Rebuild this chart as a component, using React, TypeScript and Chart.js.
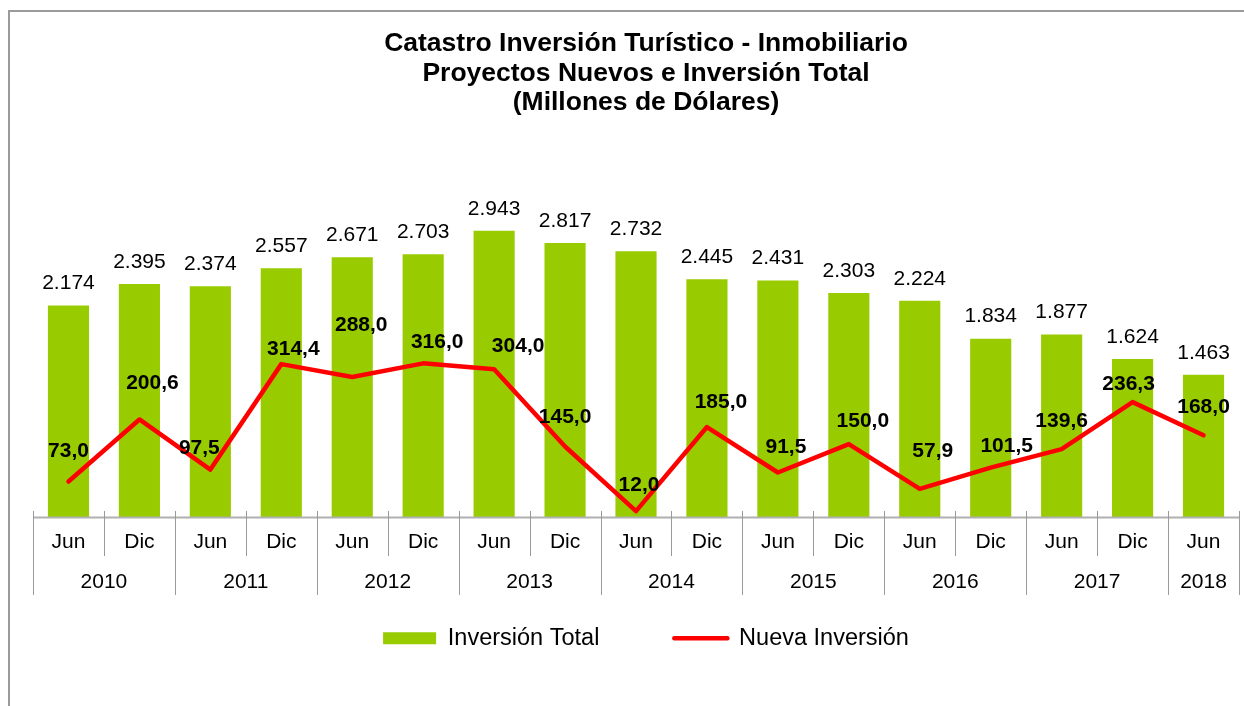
import React, { useEffect, useRef } from 'react';
import { Chart, registerables } from 'chart.js';

Chart.register(...registerables);

const FONT = "'Liberation Sans', Arial, sans-serif";

const periods = ['Jun', 'Dic', 'Jun', 'Dic', 'Jun', 'Dic', 'Jun', 'Dic', 'Jun', 'Dic', 'Jun', 'Dic', 'Jun', 'Dic', 'Jun', 'Dic', 'Jun'];
const categoryYears = ['2010', '2010', '2011', '2011', '2012', '2012', '2013', '2013', '2014', '2014', '2015', '2015', '2016', '2016', '2017', '2017', '2018'];
const inversionTotal = [2174, 2395, 2374, 2557, 2671, 2703, 2943, 2817, 2732, 2445, 2431, 2303, 2224, 1834, 1877, 1624, 1463];
const nuevaInversion = [73.0, 200.6, 97.5, 314.4, 288.0, 316.0, 304.0, 145.0, 12.0, 185.0, 91.5, 150.0, 57.9, 101.5, 139.6, 236.3, 168.0];
const titleLines = ['Catastro Inversión Turístico - Inmobiliario', 'Proyectos Nuevos e Inversión Total', '(Millones de Dólares)'];
const seriesNames = ['Inversión Total', 'Nueva Inversión'];

// styling: label offsets (dx, dy) from each line point, in px
const lineLabelOffsets = [
  [0, -30], [13, -36], [-11, -21], [12, -14.6], [9, -51.5], [14, -21], [24, -23.4], [0, -29], [3, -26],
  [14, -25], [8, -25], [14, -23.3], [13, -37.5], [16, -21.8], [0, -28.3], [-4, -18.3], [0, -28.5],
];

const fmtThousands = (v: number) => String(v).replace(/\B(?=(\d{3})+(?!\d))/g, '.');
const fmtDecimal = (v: number) => v.toFixed(1).replace('.', ',');

const axisPlugin = {
  id: 'twoLevelAxis',
  afterDraw(chart: any) {
    const { ctx, chartArea } = chart;
    const xs = chart.scales.x;
    const n = periods.length;
    const bottom = chartArea.bottom;
    const bnd = (b: number) =>
      b === 0 ? chartArea.left : b === n ? chartArea.right : (xs.getPixelForValue(b - 1) + xs.getPixelForValue(b)) / 2;
    ctx.save();
    ctx.strokeStyle = '#b0b0b0';
    ctx.lineWidth = 2;
    ctx.beginPath();
    ctx.moveTo(chartArea.left, bottom + 0.5);
    ctx.lineTo(chartArea.right, bottom + 0.5);
    ctx.stroke();
    ctx.strokeStyle = '#9a9a9a';
    ctx.lineWidth = 1;
    for (let b = 0; b <= n; b++) {
      const isYear = b === 0 || b === n || categoryYears[b] !== categoryYears[b - 1];
      const x = Math.round(bnd(b)) + 0.5;
      ctx.beginPath();
      ctx.moveTo(x, bottom - 6);
      ctx.lineTo(x, bottom + (isYear ? 78 : 39));
      ctx.stroke();
    }
    ctx.fillStyle = '#000';
    ctx.font = `21px ${FONT}`;
    ctx.textAlign = 'center';
    ctx.textBaseline = 'middle';
    let start = 0;
    for (let i = 1; i <= n; i++) {
      if (i === n || categoryYears[i] !== categoryYears[start]) {
        const cx = (bnd(start) + bnd(i)) / 2;
        ctx.fillText(categoryYears[start], cx, bottom + 65.5);
        start = i;
      }
    }
    ctx.restore();
  },
};

const labelPlugin = {
  id: 'valueLabels',
  afterDatasetsDraw(chart: any) {
    const { ctx } = chart;
    ctx.save();
    ctx.fillStyle = '#000';
    ctx.textAlign = 'center';
    ctx.textBaseline = 'middle';
    ctx.font = `21px ${FONT}`;
    chart.getDatasetMeta(0).data.forEach((el: any, i: number) => {
      ctx.fillText(fmtThousands(inversionTotal[i]), el.x, el.y - 22);
    });
    ctx.font = `bold 21px ${FONT}`;
    chart.getDatasetMeta(1).data.forEach((el: any, i: number) => {
      const [dx, dy] = lineLabelOffsets[i];
      ctx.fillText(fmtDecimal(nuevaInversion[i]), el.x + dx, el.y + dy);
    });
    ctx.restore();
  },
};

export default function App() {
  const ref = useRef<HTMLCanvasElement>(null);
  useEffect(() => {
    const chart = new Chart(ref.current as HTMLCanvasElement, {
      type: 'bar',
      data: {
        labels: periods,
        datasets: [
          {
            type: 'bar',
            label: seriesNames[0],
            data: inversionTotal,
            backgroundColor: '#99cc00',
            borderWidth: 0,
            barPercentage: 0.58,
            categoryPercentage: 1,
            yAxisID: 'y',
            order: 1,
          } as any,
          {
            type: 'line',
            label: seriesNames[1],
            data: nuevaInversion,
            borderColor: '#ff0000',
            backgroundColor: '#ff0000',
            borderWidth: 4.5,
            pointRadius: 0,
            pointHoverRadius: 0,
            tension: 0,
            borderJoinStyle: 'round',
            borderCapStyle: 'round',
            yAxisID: 'y1',
            order: 0,
          } as any,
        ],
      },
      options: {
        responsive: false,
        animation: false,
        devicePixelRatio: 1,
        events: [],
        layout: { padding: { left: 33, right: 0, top: 0, bottom: 46 } },
        plugins: {
          title: {
            display: true,
            text: titleLines,
            color: '#000',
            font: { family: FONT, size: 26.5, weight: 'bold', lineHeight: '29.5px' } as any,
            padding: { top: 29.25, bottom: 10.25 },
          },
          legend: {
            position: 'bottom',
            labels: {
              usePointStyle: true,
              pointStyleWidth: 53,
              boxHeight: 12,
              padding: 75,
              color: '#000',
              font: { family: FONT, size: 23.5 },
              sort: (a: any, b: any) => a.datasetIndex - b.datasetIndex,
              generateLabels: (c: any) => {
                const items = (Chart.defaults.plugins.legend.labels as any).generateLabels(c);
                items.forEach((it: any) => {
                  if (it.datasetIndex === 0) {
                    it.pointStyle = 'rect';
                    it.fillStyle = '#99cc00';
                    it.lineWidth = 0;
                  } else {
                    it.pointStyle = 'line';
                    it.lineWidth = 4.5;
                    it.strokeStyle = '#ff0000';
                    it.lineCap = 'round';
                  }
                });
                return items;
              },
            },
          },
          tooltip: { enabled: false },
        },
        scales: {
          x: {
            type: 'category',
            offset: true,
            grid: { display: false, drawTicks: false },
            border: { display: false },
            ticks: {
              color: '#000',
              font: { family: FONT, size: 21 },
              padding: 13,
              maxRotation: 0,
              autoSkip: false,
            },
            afterFit: (s: any) => {
              s.height = 34.5;
            },
          },
          y: { display: false, min: 0, max: 4000 },
          y1: {
            position: 'right',
            display: true,
            min: 0,
            max: 800,
            grid: { display: false, drawTicks: false },
            border: { display: false },
            ticks: { display: false },
            afterFit: (s: any) => {
              s.width = 20;
            },
          },
        },
      },
      plugins: [axisPlugin, labelPlugin],
    });
    return () => chart.destroy();
  }, []);

  return (
    <div style={{ position: 'fixed', left: 0, top: 0, width: 1244, height: 706, overflow: 'hidden', background: '#fff' }}>
      <canvas ref={ref} width={1259} height={706} style={{ display: 'block', width: 1259, height: 706 }} />
      <div
        style={{
          position: 'absolute',
          left: 8,
          top: 10,
          width: 2000,
          height: 2000,
          borderLeft: '2px solid #9a9a9a',
          borderTop: '2px solid #9a9a9a',
          pointerEvents: 'none',
        }}
      />
    </div>
  );
}
